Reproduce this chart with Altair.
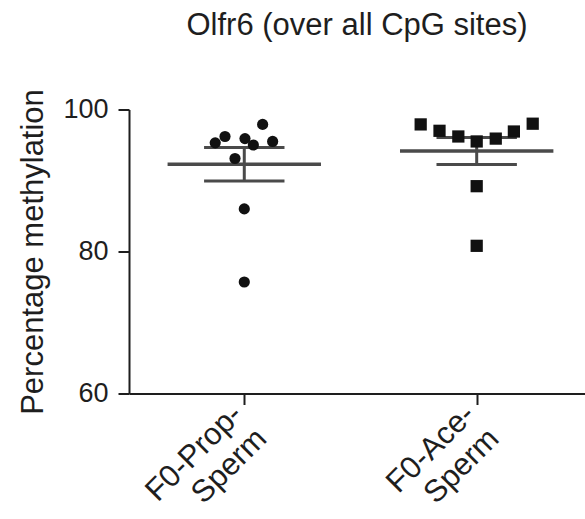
import json
import altair as alt
import pandas as pd

# ---- data ----
categories = ["F0-Prop-Sperm", "F0-Ace-Sperm"]
label_lines = [["F0-Prop-", "Sperm"], ["F0-Ace-", "Sperm"]]
prop_values = [97.9, 96.2, 95.3, 95.9, 95.0, 95.5, 93.1, 86.0, 75.7]
prop_spread = [0.079, -0.083, -0.125, 0.003, 0.039, 0.122, -0.040, 0.0, 0.0]
ace_values = [97.9, 97.0, 96.2, 95.5, 95.9, 96.9, 98.0, 89.2, 80.8]
ace_spread = [-0.241, -0.160, -0.079, 0.0, 0.082, 0.160, 0.241, 0.0, 0.0]
y_ticks = [60, 80, 100]

rows = []
for i, (vals, spr) in enumerate([(prop_values, prop_spread), (ace_values, ace_spread)]):
    for v, s in zip(vals, spr):
        rows.append({"group": categories[i], "idx": i, "value": v, "spread": s})
df = pd.DataFrame(rows)

FONT = "Liberation Sans"
INK = "#1e1e1e"
LINE = "#4a4a4a"

xscale = alt.Scale(domain=[-0.496, 1.466], nice=False, zero=False)
yscale = alt.Scale(domain=[60, 100], nice=False, zero=False)

label_expr = "datum.value == 0 ? %s : %s" % (json.dumps(label_lines[0]), json.dumps(label_lines[1]))

xaxis = alt.Axis(
    values=[0, 1], labelExpr=label_expr, title=None, grid=False,
    labelAngle=315, labelAlign="right", labelBaseline="middle",
    labelFont=FONT, labelFontSize=31, labelColor=INK, labelLineHeight=34,
    labelPadding=5, labelOffset=-7,
    tickSize=11, tickWidth=2, tickColor=INK,
    domainColor=INK, domainWidth=2,
)
yaxis = alt.Axis(
    values=y_ticks, title="Percentage methylation", grid=False,
    labelFont=FONT, labelFontSize=27, labelColor=INK, labelPadding=10,
    titleFont=FONT, titleFontSize=31, titleFontWeight="normal", titleColor=INK,
    titlePadding=13,
    tickSize=11, tickWidth=2, tickColor=INK,
    domainColor=INK, domainWidth=2,
)

base = alt.Chart(df)

stats = base.transform_aggregate(
    mean="mean(value)", sem="stderr(value)", groupby=["idx"]
).transform_calculate(
    lo="datum.mean - datum.sem", hi="datum.mean + datum.sem",
    mx1="datum.idx - 0.33", mx2="datum.idx + 0.33",
    cx1="datum.idx - 0.173", cx2="datum.idx + 0.173",
)

mean_line = stats.mark_rule(strokeWidth=3.5, color=LINE).encode(
    x=alt.X("mx1:Q", scale=xscale, axis=xaxis), x2="mx2:Q",
    y=alt.Y("mean:Q", scale=yscale, axis=yaxis),
)
sem_bar = stats.mark_rule(strokeWidth=3, color=LINE).encode(
    x=alt.X("idx:Q", scale=xscale, axis=xaxis),
    y=alt.Y("lo:Q", scale=yscale, axis=yaxis), y2="hi:Q",
)
cap_hi = stats.mark_rule(strokeWidth=3, color=LINE).encode(
    x=alt.X("cx1:Q", scale=xscale, axis=xaxis), x2="cx2:Q",
    y=alt.Y("hi:Q", scale=yscale, axis=yaxis),
)
cap_lo = stats.mark_rule(strokeWidth=3, color=LINE).encode(
    x=alt.X("cx1:Q", scale=xscale, axis=xaxis), x2="cx2:Q",
    y=alt.Y("lo:Q", scale=yscale, axis=yaxis),
)
points = base.transform_calculate(xp="datum.idx + datum.spread").mark_point(
    filled=True, opacity=1, color="#111111", strokeWidth=0
).encode(
    x=alt.X("xp:Q", scale=xscale, axis=xaxis),
    y=alt.Y("value:Q", scale=yscale, axis=yaxis),
    shape=alt.Shape("group:N", scale=alt.Scale(domain=categories, range=["circle", "square"]), legend=None),
    size=alt.Size("group:O", scale=alt.Scale(domain=categories, range=[125, 150]), legend=None),
)

chart = alt.layer(mean_line, sem_bar, cap_hi, cap_lo, points).properties(
    width=456, height=284,
    autosize=alt.AutoSizeParams(type="none"),
    padding={"left": 129, "top": 109.5, "right": 0, "bottom": 125.5},
    background="white",
    title=alt.TitleParams(
        "Olfr6 (over all CpG sites)", font=FONT, fontSize=31, fontWeight="normal",
        color=INK, anchor="middle", baseline="alphabetic", offset=23,
    ),
).configure_view(stroke=None)

chart.save("out.html", embed_options={"renderer": "svg", "actions": False})
